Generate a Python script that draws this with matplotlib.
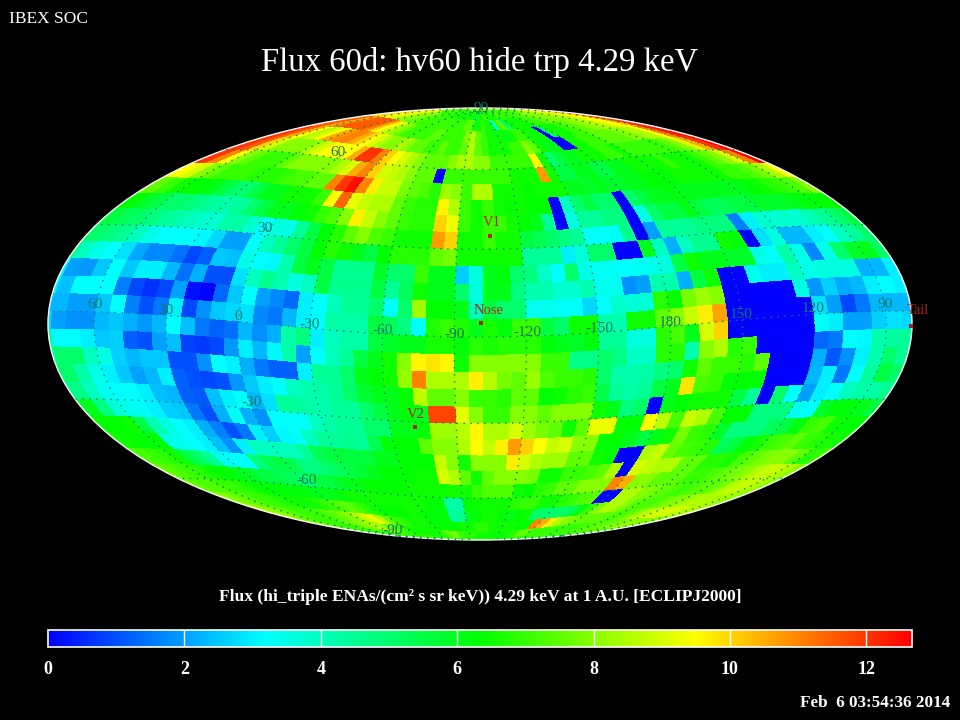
import numpy as np
import matplotlib
matplotlib.use('Agg')
import matplotlib.pyplot as plt
from matplotlib.colors import LinearSegmentedColormap
from matplotlib.patches import Ellipse

plt.rcParams['font.family'] = ['Liberation Serif', 'DejaVu Sans']

# flux per 6x6 degree pixel, rows from lat 90 down, columns from lon 78 going down (left to right on the map)
flux_rows = [
 [8,8,8,8,7.5,7.5,7.5,7,7,7, 7,7,7,7,7,6.5,6.5,6.5,6.5,6.5, 6.5,6.5,6.5,6.5,6.5,6.5,6.5,6,5.5,6.5, 6.5,7,7,6.5,6.5,6.5,6.5,7,7,7, 7,7,7,7,7,7,7,7,7,7, 7.5,7.5,7.5,7.5,8,8,8,8,8.5,8.5],
 [10.5,10,10,9.5,9.5,9,9,8.5,8,8, 8,7.5,7.5,7.5,7,7,7,7,7,7, 7,7,7,7,7,7,7.5,7.5,6,6.5, 7,6.5,6.5,3.8,7,7.5,5,6,6.5,6.5, 6.5,6.5,6.5,7,7,7,7.5,7.5,8,8, 8,8,8.5,8.5,9,9,9.5,10,11.5,12.3],
 [11.5,11.5,10.5,11,11.5,11.5,11.5,11.5,11.5,11, 10,9.5,9,8.5,8,7.5,7,7,7,7, 7,7.5,7.5,7,7,7,7,8,8.5,7.5, 7,6.5,6.5,6.5,6,6.5,7,7,6.5,6.5, 6.5,0,5.5,6.5,6.5,6.5,7,7,7.5,7.5, 8,8,8.5,8.5,9,9.5,9.5,10.5,12,12.6],
 [12,11.5,10.5,9.5,8.5,9,9.5,10.5,10.8,11, 11,10.5,10,9.5,9,8.5,8,8,8.5,8, 7.5,7.5,7,7,7.5,7,7,7.5,8.5,7.5, 7,6.5,6.5,6.5,7,7,8,7.5,6.5,6, 6,0,0,6.5,6.5,7,7,7,7.5,7.5, 7.5,7.5,8,8,8.5,8.5,9.5,11,12.2,12.6],
 [12,11.5,10,9,8,8,8,8,8.5,9, 9.5,9.5,9.5,9.5,10.5,12,12,11,10,9.5, 9,8.5,8,7.5,7.5,7.5,8,8.5,8.5,8, 8,7,7,7,7,7,9.5,6.5,5,5.5, 6,6,6.5,6.5,6.5,7,7,6.5,7,7, 7,7,7,7,7.5,8,9,10.5,12,12.6],
 [12,11,9.5,8,7.5,7,7,7,7.5,8, 8,8,8,8,8.5,9,10.5,11,10,9, 8.8,8.5,8,7.5,7.5,0,7,7,7,7, 7,7,7,6.5,6.5,6.5,10.7,6.5,5.5,5.5, 6,6,5.5,5.5,6,6,6.5,6.5,6.5,6.5, 7,6.5,6.5,6.5,7,7.5,8,9,11,12.6],
 [9.5,9,8,7.5,7,7,7,6.8,6.8,6.8, 7,7.2,7.2,7.5,7.5,11,12,12.5,11,9.7, 8.8,8.8,7.8,7.5,7.2,6.8,8.3,8,7,8.5, 8.5,6.5,6.5,6.5,6.3,6.5,6.5,6.5,6,6, 5.8,6,5.8,5.8,6,6,6.3,6.3,6.3,6.5, 6.5,6.5,6.5,6.5,7,7,7.3,7.8,8.5,9.5],
 [7.5,7,6.5,6.3,6.3,6,5.5,5,5,5.5, 6,6,6.5,6.5,6.5,7,9.5,11.4,9.2,8.8, 8.5,8.5,7.5,7,6.8,6.8,9.6,8.5,7,6.5, 7,6.5,6.3,6.5,6.3,6.3,0,4,5,5.5, 5,5,0,5,5.5,6,6,6.2,6,6, 6,6,6,6,6.3,6.5,6.8,7,7.3,8],
 [6.3,5.8,5.5,5,5,4.8,4.5,4.3,4.3,4.5, 5,5.5,6,6,6.3,6.5,7,7.3,8,9.7, 8.8,8,7.5,7,6.8,6.8,10,9.3,7,6.5, 7,7,6.5,6.3,6,4.5,0,3.6,4.5,4.5, 4.8,4.8,0,3.5,5,5.5,5.5,6,5.5,5.2, 5.2,5.5,5.5,5.8,5.8,5.8,6,6.2,6.3,6.3],
 [5.5,5.2,5,4.8,4.5,4.3,4,3.8,3.8,4.3, 4.3,3.8,3.2,3.6,3.5,4.5,5.5,6.3,6.8,7.5, 8,7.3,7,6.5,6.5,6.5,10.7,10,6.5,6.5, 7,6.5,6.5,5.5,5.3,5,4.8,4.5,3.3,3.3, 3.3,4.6,0,2,4.5,4.5,4.5,4.8,4.8,4.8, 1.6,3,3.8,3.8,3.8,3.8,4.2,4.5,5,5.5],
 [5,4.8,4.5,4,3.5,3.2,3.2,3.2,3.1,2.7, 2,2,3.2,4,4.5,5,5.5,6.3,6.8,6.5, 6,5.5,6.3,6.8,6.8,6.8,7.5,7.8,6.5,6.5, 6.5,6.5,6.5,4.5,4.5,4.5,3,3.7,5,5, 0,0,6,4,2.2,4,4.6,4.6,6.5,6.3, 0,2.8,3.6,2.3,2.3,3,3.3,4,4.5,5],
 [4,3.5,3.2,2.8,2.1,1.7,1.7,1.4,0.9,1.2, 2.5,2.4,3.5,3.2,3.1,4.2,5.5,6,5.5,4.6, 4.6,4.6,5.8,5,5,7,6,6,2.6,3.6, 6,6.2,5,4.8,3.9,3.2,5,3.5,3.3,3.3, 3.2,3.3,3.4,3.6,5.5,6.5,6,6,5.8,5.8, 3.5,3.3,4.3,3.5,1.7,3.5,5,5.8,6,5],
 [2,1.9,2.5,3.2,2.5,3,3,2.3,1.4,2.2, 1,1,2.8,4,4.6,4.2,3.6,4,5.5,4.6, 4.6,4.6,5.5,4.5,5.2,6.5,6,6,5,3.6, 6,6,4.8,4.2,4.2,3.8,3.8,4.2,3.4,3.4, 1.8,2,4.2,4.2,2.2,5.5,6.5,0,0,3.4, 3,3,4,3.5,3.6,3.6,3.6,2.2,2.3,3],
 [2.4,3.2,3.2,3.2,1.6,0.9,0.6,0.9,2,0.2, 0,1.3,2.5,3.2,2,1.7,1.3,3,3.2,4, 4.5,4.5,5,3.2,5,8.3,6.3,6.3,6,4, 5.5,5,5,3.4,3.4,3.3,3.3,2.7,3.2,3.8, 3.7,3.7,6.8,6.4,7.8,8.3,8,0,0,0, 0,0,3.5,1.9,2.6,2.1,2.3,3,3.2,3],
 [2.3,2,2,2.5,3.2,1.6,1,1.5,3,0.9, 1.8,2.5,2.7,2.8,1.7,1.5,2.3,3,3.2,4.3, 4.3,4.3,5.5,5.2,4.8,3.2,6.7,7,6.7,6, 6.6,6.2,7,7,5.5,5,6.5,6.5,4.3,4.2, 6.5,6.5,7.5,8,8.8,9.7,10.6,0,0,0, 0,0,0,2.8,2,0.9,1.5,2.3,2.3,2.3],
 [2,1.8,1.8,2.3,2.5,2.2,1.9,2.3,3.2,2.4, 1.5,1.2,1.4,2.3,1.8,2.2,4.3,4.8,3,4, 4.3,4.3,5.5,5.8,6,6,6.6,6.6,6.2,6.8, 6.6,6.8,6.8,6.8,6.2,6,5.8,6.2,4.5,4.5, 3.6,3.6,6.8,7.2,6,9,10,0,0,0, 0,0,0,3.3,3,2,2,2.6,2.8,2.7],
 [3.2,3.2,3,2.5,2.6,1.2,1,2,2.4,0.8, 0.7,0.9,1.9,3,2.3,3.1,4.3,2,3.2,4, 4.5,5.5,6,6.5,8,9.6,9.8,9.6,6.5,8, 8,8,8,8,7,7,4.7,4.7,5,4.7, 3.9,3.9,6.8,6.8,4.2,8,8.5,6.8,7,0, 0,0,0,1.3,1.5,3.2,3.1,4.2,4.4,4.5],
 [5,5,4,3.5,2.6,2.3,2.5,2.5,1,1, 1.8,3.2,3,2.2,1.5,1.2,1.2,3,4.5,4.5, 5,6,6.3,6.5,8.2,11,8.5,8.5,8.5,9.7, 8.6,7.8,7.5,8.2,7.3,7,7,6.8,5,4.3, 4.2,4.3,4.8,5,6.5,7.5,7,7,6.8,7.5, 0,0,0,2.2,1.1,1.8,3,4.2,5,4.5],
 [5,4.3,3.5,3,2.5,2,2.3,3,1.2,1, 0.9,1,1.9,2.5,3,3.2,4,4.2,4.3,4.5, 5,5.7,6,6,6.3,8.7,7.5,7.5,8,7, 7,6.8,7.5,7.5,6.3,6.5,6.8,7,5.4,4.5, 4.3,4.5,5.5,6,9.8,7.2,7,6.3,6.3,6.3, 0,0,0,2.3,3,1.5,3.2,4.4,5.5,5],
 [4.7,4,3.4,3.2,3.2,3,2.4,2.3,1.2,1.1, 2.4,3,3.3,2.3,2.8,4.5,4.4,4.3,4.2,4.5, 4.5,5,5.5,6,6.3,6,11.8,11.8,9.2,8, 7,7,8,8,7.5,8,8,8,6.5,6, 4.8,5,0,6,6.3,6.5,6.5,6.5,5.5,4.5, 0,5,3.2,2,3,3.2,4,4.3,4.3,4.6],
 [6,4.8,3.7,3.4,3.3,3,2.6,2.5,1.5,1, 2.2,3.3,2.2,1.8,3.2,3.3,3.3,4,4.3,4.5, 4.5,5,5,6,6,6.3,8.3,8.3,8.6,9.6, 8.5,8.5,9,8.3,7.8,7.5,6.5,7.5,9.3,9.3, 6.3,6.3,9.5,8.7,7.2,8.8,8.5,7.2,6.3,6.3, 4.8,4.8,4.8,3.4,3.2,5.8,6.2,6.2,6,5.5],
 [6.3,6.3,6.5,5.5,4.2,3.6,3.2,3,2.2,1.6, 1,1.5,3,2.6,3.1,3.3,4,4.5,4.5,4.6, 4.5,5.3,6.2,6.3,6.3,7.5,8,8,8.5,9.5, 8.8,9.7,10.7,10,9.5,8.8,9,8,8,6.3, 6.3,6,5.5,6,6.5,7.8,7,6.8,5.8,4.8, 4.8,4.8,5.2,5.5,6.2,7,7.2,6.5,6.3,6.3],
 [6.5,6.4,6.3,6.3,3.5,3.4,3.2,3,2.4,1.8, 3,4,4,4,4,4.5,5.3,5.5,5.6,5.5, 5.6,6,6,6.3,6.3,6.3,8.8,8,6.5,8, 8,8,9.7,9,8.5,8.3,8.3,7.5,7.5,6.5, 6.3,0,0,8.5,8.8,7.6,7.2,7,6.8,5.2, 5.5,6.2,6.6,7,7.2,7.5,7,6.8,6.6,6.5],
 [7.2,7,6.8,6.5,5.5,5,4.5,3.3,3.2,3.2, 4.8,5.3,5.5,5.3,4.8,4.8,5,5.2,5.5,5.7, 6,6.3,6.3,6.3,6.5,6.5,9,8.5,7.5,6.5, 7.5,8,8,8,7.8,6.5,6.5,7,7,7.2, 7.5,8.5,0,9,8.7,8.5,8.5,7.5,7.5,6.8, 6.8,6.6,7.2,7.5,7.8,8,8,7.5,6.8,7],
 [7.5,7.2,7,6.8,6.5,6.3,6.2,6,5.8,5.5, 5.5,5.3,5.2,5,5.5,5.5,5.8,6,6.2,6.3, 6.3,6.3,6.3,6.5,6.5,6.5,6.5,6.5,6.5,7, 7.3,7.3,7.3,6.5,6.3,6.8,7,7.5,7.5,8, 8,8,11,10.5,8,8,7.5,7.5,7.5,7, 7,7.2,7.5,7.8,8,8.5,8.8,8.8,8.5,8],
 [7.5,7.3,7.3,7,7,6.8,6.5,6.3,6.3,6.2, 6.2,6.2,6,6,6,6.2,6.5,6.5,6.5,6.5, 6.5,6.5,6.5,6.5,6.3,6.3,4.3,4.3,6.3,6.5, 6.5,6.5,6.5,6.8,7,7,6.5,6.5,6.8,7, 7.3,7.5,0,0,8.5,8.5,8,7.8,7.5,7.3, 7,7.2,7.5,7.5,7.8,8.5,8.8,8.8,8.5,8],
 [8,7.8,7.5,7.3,7,7,6.8,6.6,6.5,6.5, 6.5,6.8,7,7.3,7.5,7.2,6.8,6.5,6.3,6.3, 6.3,6.5,6.5,6.3,6.2,6.2,4.4,4.6,6,6.3, 6.5,6.5,6.3,6,6.3,6.5,5,5,5,5, 5.2,6,7,7.8,8.5,8.5,8,7.5,7.3,7.2, 7.5,7.8,8,8.2,8.5,8.5,8.5,8.5,8.3,8],
 [8.5,8,7.8,7.5,7.3,7,7,7,7,7.3, 7.5,7.8,8,8.5,9,9.3,8.5,7.5,7,6.8, 6.5,6.5,6.5,6.3,6.3,6.3,6.3,6.5,6.5,6.8, 6.8,6.5,6.5,6.5,6.5,6.3,6.3,11,10.5,9.7, 8.5,8,7.8,7.5,7.5,7.5,7.5,7.3,7.2,7.5, 8,8.5,8.8,9,9,9,8.8,8.5,8.5,8.5],
 [8,7.8,7.5,7.3,7,7,7,7,7.5,7.5, 8,8,8.5,8.5,8,7.5,7,6.8,6.5,6.5, 6.5,6.5,6.5,7,7.5,7.8,7,6.8,6.8,6.5, 6.5,6.5,6.3,6.3,6.5,6.8,7.5,7.5,7,7, 7,7,7,7,7,7,7.2,7.3,7.5,7.5, 7.5,7.8,8,8,8.2,8.2,8,8,8,8],
 [7.5,7.5,7.3,7.3,7,7,7,7,7,7, 7,7,7,7,7,7,6.8,6.8,6.8,6.8, 6.8,6.8,6.8,6.8,6.8,6.8,6.8,6.8,6.8,6.8, 6.8,6.8,6.8,6.8,6.8,6.8,6.8,7,7,7, 7,7,7,7,7,7,7,7,7.3,7.3, 7.3,7.3,7.5,7.5,7.5,7.5,7.5,7.5,7.5,7.5],
]
cbar_ticks = [0, 2, 4, 6, 8, 10, 12]
flux_max = 12.67
lon_labels = [('60', 95, 305), ('30', 166, 310), ('0', 238, 316), ('-30', 310, 325), ('-60', 383, 331), ('-90', 455, 334),
              ('-120', 527, 333), ('-150', 599, 329), ('180', 670, 323), ('150', 741, 314), ('120', 813, 309), ('90', 885, 304)]
lat_labels = [('90', 481, 108), ('60', 338, 152), ('30', 265, 229), ('-30', 252, 403), ('-60', 307, 481), ('-90', 393, 530)]
obj_names = ['Nose', 'V1', 'V2', 'Tail']
obj_lon = [-101.0, -105.5, -71.5, 79.8]
obj_lat = [4.7, 34.7, -32.0, -5.0]
obj_text_xy = [(489, 311), (492, 222), (416, 414), (918, 310)]

# map centre in ecliptic coords, the grid is tilted against the frame
lon0 = -100.7
lat0 = np.radians(4.4)
cx, cy, rx, ry = 480.0, 324.0, 432.0, 216.0


def to_screen(lon, lat):
    # ecliptic degrees -> pixel position, rotated mollweide
    u = np.radians(lon0 - np.asarray(lon, dtype=float))
    la = np.radians(np.asarray(lat, dtype=float))
    dx, dy, dz = np.cos(la) * np.cos(u), np.cos(la) * np.sin(u), np.sin(la)
    mx = dx * np.cos(lat0) + dz * np.sin(lat0)
    mz = -dx * np.sin(lat0) + dz * np.cos(lat0)
    lam = np.arctan2(dy, mx)
    phi = np.arcsin(np.clip(mz, -1, 1))
    th = phi * 0.8
    for _ in range(60):
        th = th - (2 * th + np.sin(2 * th) - np.pi * np.sin(phi)) / (2 + 2 * np.cos(2 * th) + 1e-9)
        th = np.clip(th, -np.pi / 2, np.pi / 2)
    return cx + rx * (lam / np.pi) * np.cos(th), cy - ry * np.sin(th)


def flux_image():
    # look up the flux pixel for every screen pixel
    flux = np.array(flux_rows, dtype=float)
    xs = np.arange(48, 912) + 0.5
    ys = np.arange(108, 540) + 0.5
    px, py = np.meshgrid(xs, ys)
    X, Y = (px - cx) / rx, (cy - py) / ry
    inside = X ** 2 + Y ** 2 <= 1
    th = np.arcsin(np.clip(Y, -1, 1))
    phi = np.arcsin(np.clip((2 * th + np.sin(2 * th)) / np.pi, -1, 1))
    lam = np.pi * X / np.maximum(np.cos(th), 1e-6)
    mx, my, mz = np.cos(phi) * np.cos(lam), np.cos(phi) * np.sin(lam), np.sin(phi)
    dx = mx * np.cos(lat0) - mz * np.sin(lat0)
    dz = mx * np.sin(lat0) + mz * np.cos(lat0)
    lat = np.degrees(np.arcsin(np.clip(dz, -1, 1)))
    lon = lon0 - np.degrees(np.arctan2(my, dx))
    col = np.floor((78 - lon) / 6).astype(int) % 60
    row = np.clip(np.floor((90 - lat) / 6).astype(int), 0, 29)
    img = flux[row, col]
    img[~inside] = np.nan
    return img


def split_seam(x, y):
    x, y = np.array(x), np.array(y)
    jump = np.where(np.abs(np.diff(x)) > 100)[0]
    return np.insert(x, jump + 1, np.nan), np.insert(y, jump + 1, np.nan)


cmap = LinearSegmentedColormap.from_list('flux', ['#0000ff', '#00ffff', '#00ff00', '#ffff00', '#ff0000'], N=256)
cmap.set_bad('black')

fig = plt.figure(figsize=(9.6, 7.2), dpi=100, facecolor='black')
ax = fig.add_axes([0, 0, 1, 1])
ax.set_facecolor('black')
im = ax.imshow(flux_image(), cmap=cmap, vmin=0, vmax=flux_max, interpolation='nearest',
               extent=(48, 912, 540, 108), aspect='equal', zorder=1)
ax.set_xlim(0, 960)
ax.set_ylim(720, 0)
ax.axis('off')

ax.add_patch(Ellipse((cx, cy), 2 * rx, 2 * ry, fill=False, ec='white', lw=1.0, zorder=2))

# dotted grid
grid_col = '#0a7a78'
for la in [-60, -30, 0, 30, 60]:
    sx, sy = split_seam(*to_screen(np.linspace(-180, 180, 721), np.full(721, float(la))))
    ax.plot(sx, sy, color=grid_col, lw=1.0, ls=(0, (1, 4)), zorder=3)
for lo in range(-180, 180, 30):
    sx, sy = split_seam(*to_screen(np.full(361, float(lo)), np.linspace(-89.9, 89.9, 361)))
    ax.plot(sx, sy, color=grid_col, lw=1.0, ls=(0, (1, 4)), zorder=3)

for txt, x, y in lon_labels + lat_labels:
    ax.text(x, y, txt, color='#0e7a62', fontsize=11, ha='center', va='center', zorder=4)

ox, oy = to_screen(obj_lon, obj_lat)
ax.scatter(ox, oy, s=12, marker='s', color='#b22222', linewidths=0, zorder=5, clip_on=False)
for name, (tx, ty) in zip(obj_names, obj_text_xy):
    ax.text(tx, ty, name, color='#b22222', fontsize=10.5, ha='center', va='center', zorder=5)

ax.text(9, 19, 'IBEX SOC', color='white', fontsize=12.5, ha='left', va='center')
ax.text(480, 63, 'Flux 60d: hv60 hide trp 4.29 keV', color='white', fontsize=23.6, ha='center', va='center')
ax.text(480, 597, 'Flux (hi_triple ENAs/(cm² s sr keV)) 4.29 keV at 1 A.U. [ECLIPJ2000]', color='white',
        fontsize=12.6, fontweight='bold', ha='center', va='center')
ax.text(950, 703, 'Feb  6 03:54:36 2014', color='white', fontsize=12.3, fontweight='bold', ha='right', va='center')

# colorbar
cax = fig.add_axes([48 / 960, 1 - 647 / 720, 864 / 960, 17.5 / 720])
cb = fig.colorbar(im, cax=cax, orientation='horizontal', ticks=cbar_ticks)
cb.outline.set_edgecolor('white')
cb.outline.set_linewidth(1.2)
cb.ax.tick_params(length=0, pad=10, labelcolor='white', labelsize=13)
for lab in cb.ax.get_xticklabels():
    lab.set_fontweight('bold')
for t in cbar_ticks[1:]:
    cb.ax.axvline(t, color='white', lw=1.0)

fig.savefig('out.png', dpi=100, facecolor='black')
